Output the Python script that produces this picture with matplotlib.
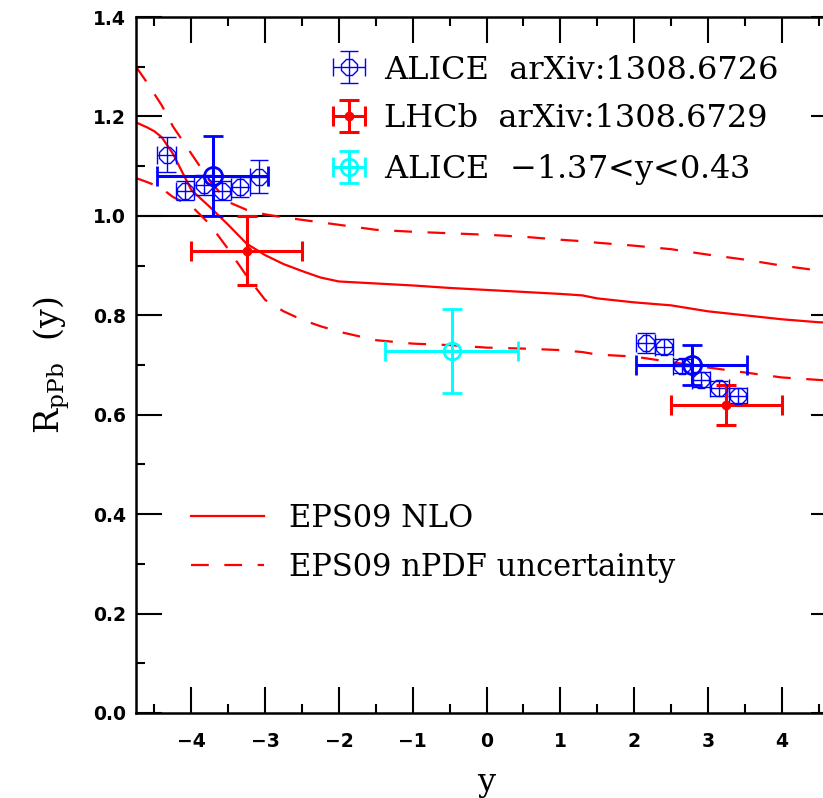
import matplotlib.pyplot as plt
from matplotlib.ticker import MultipleLocator

plt.rcParams['mathtext.fontset'] = 'dejavuserif'

# EPS09 NLO curves (central + nPDF uncertainty band)
y_th = [-4.75, -4.6, -4.5, -4.4, -4.25, -4.0, -3.75, -3.5, -3.25, -3.0, -2.75, -2.5,
        -2.25, -2.0, -1.5, -1.0, -0.5, 0.0, 0.5, 1.0, 1.3, 1.5, 2.0, 2.5, 3.0, 3.5,
        4.0, 4.5, 4.75]
r_central = [1.188, 1.178, 1.170, 1.158, 1.125, 1.052, 1.018, 0.982, 0.944, 0.921,
             0.903, 0.889, 0.876, 0.868, 0.864, 0.860, 0.855, 0.851, 0.847, 0.843,
             0.840, 0.834, 0.826, 0.820, 0.808, 0.800, 0.792, 0.786, 0.785]
r_upper = [1.300, 1.268, 1.245, 1.222, 1.180, 1.125, 1.070, 1.028, 1.012, 1.003,
           0.997, 0.992, 0.987, 0.982, 0.972, 0.968, 0.965, 0.962, 0.958, 0.952,
           0.949, 0.946, 0.940, 0.933, 0.922, 0.912, 0.900, 0.890, 0.886]
r_lower = [1.076, 1.068, 1.062, 1.055, 1.038, 1.020, 0.983, 0.933, 0.879, 0.831,
           0.808, 0.791, 0.778, 0.767, 0.750, 0.743, 0.740, 0.735, 0.733, 0.730,
           0.726, 0.721, 0.717, 0.706, 0.695, 0.685, 0.675, 0.670, 0.668]

# ALICE, 0.25 wide bins
alice_bin_y = [-4.335, -4.085, -3.835, -3.585, -3.335, -3.085,
               2.155, 2.405, 2.655, 2.905, 3.155, 3.405]
alice_bin_r = [1.123, 1.051, 1.062, 1.051, 1.058, 1.079,
               0.744, 0.737, 0.698, 0.670, 0.653, 0.638]
alice_bin_err = [0.035, 0.02, 0.02, 0.02, 0.02, 0.033,
                 0.02, 0.015, 0.015, 0.015, 0.015, 0.015]

# ALICE integrated
alice_y = [-3.71, 2.78]
alice_r = [1.08, 0.70]
alice_yerr = [0.75, 0.75]
alice_rerr = [0.08, 0.04]

# LHCb
lhcb_y = [-3.25, 3.25]
lhcb_r = [0.93, 0.62]
lhcb_yerr = [0.75, 0.75]
lhcb_rerr = [0.07, 0.04]

# ALICE mid-rapidity
mid_y = [-0.47]
mid_r = [0.728]
mid_yerr = [0.9]
mid_rerr = [0.085]

fig = plt.figure(figsize=(8.23, 7.98), dpi=100)
ax = fig.add_axes([136 / 823, 85 / 798, 701 / 823, 696 / 798])

ax.axhline(1.0, color='black', lw=1.5)
l1, = ax.plot(y_th, r_central, color='red', lw=1.6)
l2, = ax.plot(y_th, r_lower, color='red', lw=1.6, dashes=(8, 7))
ax.plot(y_th, r_upper, color='red', lw=1.6, dashes=(8, 7))

small = ax.errorbar(alice_bin_y, alice_bin_r, xerr=0.125, yerr=alice_bin_err,
                    fmt='8', ms=13, mfc='none', mec='blue', mew=1,
                    ecolor='blue', elinewidth=1, capsize=6.5, capthick=1)
ax.errorbar(alice_y, alice_r, xerr=alice_yerr, yerr=alice_rerr,
            fmt='o', ms=13, mfc='none', mec='blue', mew=2,
            ecolor='blue', elinewidth=2.2, capsize=7, capthick=2.2)
lhcb = ax.errorbar(lhcb_y, lhcb_r, xerr=lhcb_yerr, yerr=lhcb_rerr,
                   fmt='o', ms=6, color='red', ecolor='red',
                   elinewidth=2.2, capsize=7, capthick=2.2)
mid = ax.errorbar(mid_y, mid_r, xerr=mid_yerr, yerr=mid_rerr,
                  fmt='o', ms=12, mfc='none', mec='cyan', mew=2,
                  ecolor='cyan', elinewidth=2.2, capsize=7, capthick=2.2)

ax.set_xlim(-4.75, 4.75)
ax.set_ylim(0, 1.4)
ax.xaxis.set_major_locator(MultipleLocator(1))
ax.xaxis.set_minor_locator(MultipleLocator(0.5))
ax.yaxis.set_major_locator(MultipleLocator(0.2))
ax.yaxis.set_minor_locator(MultipleLocator(0.1))
ax.tick_params(which='both', direction='in', top=True, right=True, width=1.5)
ax.tick_params(which='major', length=19)
ax.tick_params(which='minor', length=6.5)
ax.tick_params(axis='x', pad=14)
ax.tick_params(axis='y', pad=7)
for lab in ax.get_xticklabels() + ax.get_yticklabels():
    lab.set_fontsize(13.5)
    lab.set_fontweight('bold')
ax.yaxis.set_major_formatter(plt.FormatStrFormatter('%.1f'))
for s in ax.spines.values():
    s.set_linewidth(1.8)

ax.set_xlabel('y', fontsize=23, family='DejaVu Serif')
ax.set_ylabel(r'R$_{\mathrm{pPb}}$  (y)', fontsize=24, family='DejaVu Serif')
ax.xaxis.set_label_coords(0.5, -0.077)
ax.yaxis.set_label_coords(-0.092, 0.5)

leg1 = ax.legend([small, lhcb, mid],
                 ['ALICE  arXiv:1308.6726', 'LHCb  arXiv:1308.6729', r'ALICE  $-$1.37<y<0.43'],
                 loc='upper left', bbox_to_anchor=(0.281, 0.946), frameon=False,
                 borderpad=0, borderaxespad=0, handlelength=1.0, handletextpad=0.6,
                 labelspacing=0.55, prop={'family': 'DejaVu Serif', 'size': 23})
ax.add_artist(leg1)
ax.legend([l1, l2], ['EPS09 NLO', 'EPS09 nPDF uncertainty'],
          loc='upper left', bbox_to_anchor=(0.0785, 0.302), frameon=False,
          borderpad=0, borderaxespad=0, handlelength=2.4, handletextpad=0.8,
          labelspacing=0.6, prop={'family': 'DejaVu Serif', 'size': 22})

fig.savefig('out.png', dpi=100)
